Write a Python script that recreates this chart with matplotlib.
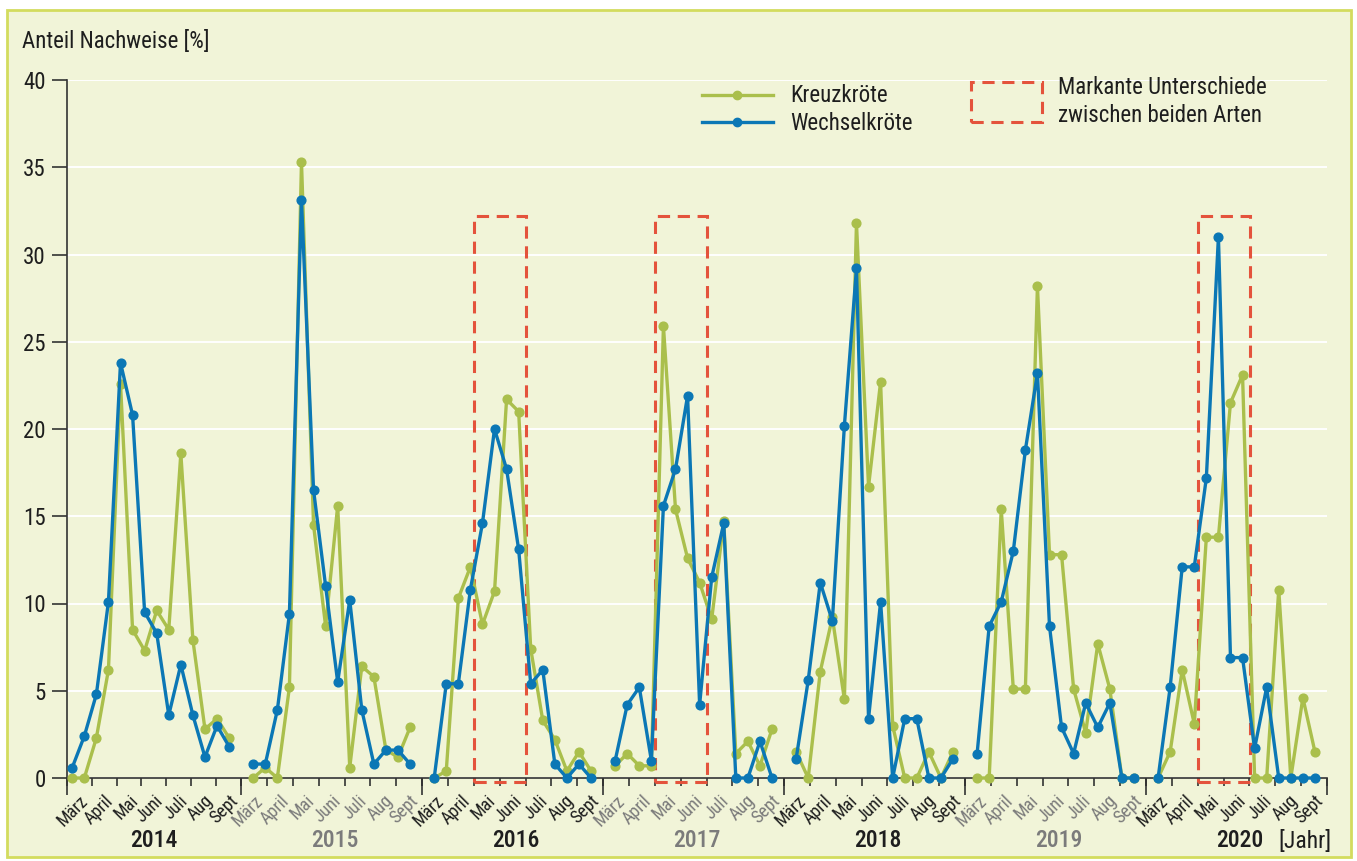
import matplotlib
matplotlib.use('Agg')
import matplotlib.pyplot as plt
from matplotlib.patches import Rectangle
from matplotlib.lines import Line2D
import numpy as np

plt.rcParams['font.family'] = ['Roboto Condensed', 'Roboto', 'DejaVu Sans']

# data: two values per month (half-month steps), March to September
years = [2014, 2015, 2016, 2017, 2018, 2019, 2020]
months = ['März', 'April', 'Mai', 'Juni', 'Juli', 'Aug', 'Sept']
highlight_years = [2016, 2017, 2020]

kreuzkroete = [
    [0, 0, 2.3, 6.2, 22.6, 8.5, 7.3, 9.6, 8.5, 18.6, 7.9, 2.8, 3.4, 2.3],
    [0, 0.6, 0, 5.2, 35.3, 14.5, 8.7, 15.6, 0.6, 6.4, 5.8, 1.6, 1.2, 2.9],
    [0, 0.4, 10.3, 12.1, 8.8, 10.7, 21.7, 21.0, 7.4, 3.3, 2.2, 0.4, 1.5, 0.4],
    [0.7, 1.4, 0.7, 0.7, 25.9, 15.4, 12.6, 11.2, 9.1, 14.7, 1.4, 2.1, 0.7, 2.8],
    [1.5, 0, 6.1, 9.2, 4.5, 31.8, 16.7, 22.7, 3.0, 0, 0, 1.5, 0, 1.5],
    [0, 0, 15.4, 5.1, 5.1, 28.2, 12.8, 12.8, 5.1, 2.6, 7.7, 5.1, 0, 0],
    [0, 1.5, 6.2, 3.1, 13.8, 13.8, 21.5, 23.1, 0, 0, 10.8, 0, 4.6, 1.5],
]
wechselkroete = [
    [0.6, 2.4, 4.8, 10.1, 23.8, 20.8, 9.5, 8.3, 3.6, 6.5, 3.6, 1.2, 3.0, 1.8],
    [0.8, 0.8, 3.9, 9.4, 33.1, 16.5, 11.0, 5.5, 10.2, 3.9, 0.8, 1.6, 1.6, 0.8],
    [0, 5.4, 5.4, 10.8, 14.6, 20.0, 17.7, 13.1, 5.4, 6.2, 0.8, 0, 0.8, 0],
    [1.0, 4.2, 5.2, 1.0, 15.6, 17.7, 21.9, 4.2, 11.5, 14.6, 0, 0, 2.1, 0],
    [1.1, 5.6, 11.2, 9.0, 20.2, 29.2, 3.4, 10.1, 0, 3.4, 3.4, 0, 0, 1.1],
    [1.4, 8.7, 10.1, 13.0, 18.8, 23.2, 8.7, 2.9, 1.4, 4.3, 2.9, 4.3, 0, 0],
    [0, 5.2, 12.1, 12.1, 17.2, 31.0, 6.9, 6.9, 1.7, 5.2, 0, 0, 0, 0],
]

GREEN = '#AABF4C'
BLUE = '#0B77B5'
RED = '#E4533C'
BG = '#F1F4D8'
BORDER = '#D3DC5E'
DARK = '#1e1e1e'
GRAY = '#7b7b7b'

W, H = 1357, 861
fig = plt.figure(figsize=(W / 100, H / 100), dpi=100)
fig.patch.set_facecolor('white')
fig.add_artist(Rectangle((7 / W, 1 - 857 / H), (1351 - 7) / W, (857 - 10) / H,
                         transform=fig.transFigure, fc=BG, ec=BORDER, lw=2, zorder=-10))

ax = fig.add_axes([66.7 / W, 1 - 778 / H, (1327 - 66.7) / W, (778 - 80) / H])
ax.set_facecolor('none')
ax.set_xlim(-0.46, 104)
ax.set_ylim(0, 40)

for s in ['top', 'right']:
    ax.spines[s].set_visible(False)
for s in ['left', 'bottom']:
    ax.spines[s].set_color('#333333')
    ax.spines[s].set_linewidth(1.2)

ax.set_yticks(range(0, 41, 5))
ax.yaxis.grid(True, color='white', lw=1.4)
ax.set_axisbelow(True)
ax.tick_params(axis='y', length=11, width=1.2, color='#333333', labelsize=16.5,
               labelcolor=DARK, pad=4)

# month edges and centres per year
edges, centres, labels = [], [], []
for i in range(len(years)):
    start = -0.46 if i == 0 else 15 * i - 1
    e = np.linspace(start, 15 * i + 14, 8)
    edges.extend(e)
    centres.extend((e[:-1] + e[1:]) / 2)
    labels.extend(months)

ax.set_xticks(centres)
ax.set_xticklabels(labels, rotation=45, ha='right', rotation_mode='anchor', fontsize=13)
ax.set_xticks(edges, minor=True)
ax.tick_params(axis='x', which='major', length=0, pad=10)
ax.tick_params(axis='x', which='minor', length=5.5, width=1.2, color='#333333')
for k, lab in enumerate(ax.get_xticklabels()):
    lab.set_color(GRAY if (k // 7) % 2 else DARK)

# longer ticks at year boundaries
xt = ax.get_xaxis_transform()
for b in [-0.46] + [15 * i + 14 for i in range(len(years))]:
    ax.plot([b, b], [0, -0.024], transform=xt, color='#333333', lw=1.2,
            clip_on=False, solid_capstyle='butt')

# year labels
for i, yr in enumerate(years):
    ax.text(15 * i + 6.8, -0.09, str(yr), transform=xt, ha='center', va='center',
            fontsize=17, fontweight='medium', color=GRAY if i % 2 else DARK)
fig.text(1305 / W, 1 - 841 / H, '[Jahr]', ha='center', va='center', fontsize=17,
         color=DARK)

# highlight boxes
for yr in highlight_years:
    i = years.index(yr)
    x0 = 15 * i + 4 - 0.7
    x1 = 15 * i + 7 + 0.6
    ax.add_patch(Rectangle((x0, -0.25), x1 - x0, 32.45, fill=False, ec=RED, lw=2.2,
                           ls=(0, (4, 2.5)), clip_on=False, zorder=1.5))

# series
for i in range(len(years)):
    x = 15 * i + np.arange(14)
    ax.plot(x, kreuzkroete[i], color=GREEN, lw=2.4, marker='o', ms=6.3,
            clip_on=False, zorder=3)
for i in range(len(years)):
    x = 15 * i + np.arange(14)
    ax.plot(x, wechselkroete[i], color=BLUE, lw=2.4, marker='o', ms=6.3,
            clip_on=False, zorder=4)

# title
fig.text(22 / W, 1 - 42 / H, 'Anteil Nachweise [%]', ha='left', va='center',
         fontsize=16.5, color=DARK)

# legend
def fx(px):
    return px / W


def fy(py):
    return 1 - py / H


for ypx, col, name in [(95, GREEN, 'Kreuzkröte'), (122, BLUE, 'Wechselkröte')]:
    fig.add_artist(Line2D([fx(702), fx(773)], [fy(ypx), fy(ypx)], color=col, lw=2.4,
                          transform=fig.transFigure))
    fig.add_artist(Line2D([fx(737)], [fy(ypx)], color=col, marker='o', ms=6,
                          transform=fig.transFigure))
    fig.text(fx(790), fy(ypx + 1), name, ha='left', va='center', fontsize=16.5,
             color=DARK)

fig.add_artist(Rectangle((fx(971), fy(122)), (1042 - 971) / W, 40 / H, fill=False,
                         ec=RED, lw=2.2, ls=(0, (4, 2.5)), transform=fig.transFigure))
fig.text(fx(1058), fy(88), 'Markante Unterschiede', ha='left', va='center',
         fontsize=16.5, color=DARK)
fig.text(fx(1058), fy(115), 'zwischen beiden Arten', ha='left', va='center',
         fontsize=16.5, color=DARK)

fig.savefig('out.png', dpi=100, facecolor=fig.get_facecolor())
